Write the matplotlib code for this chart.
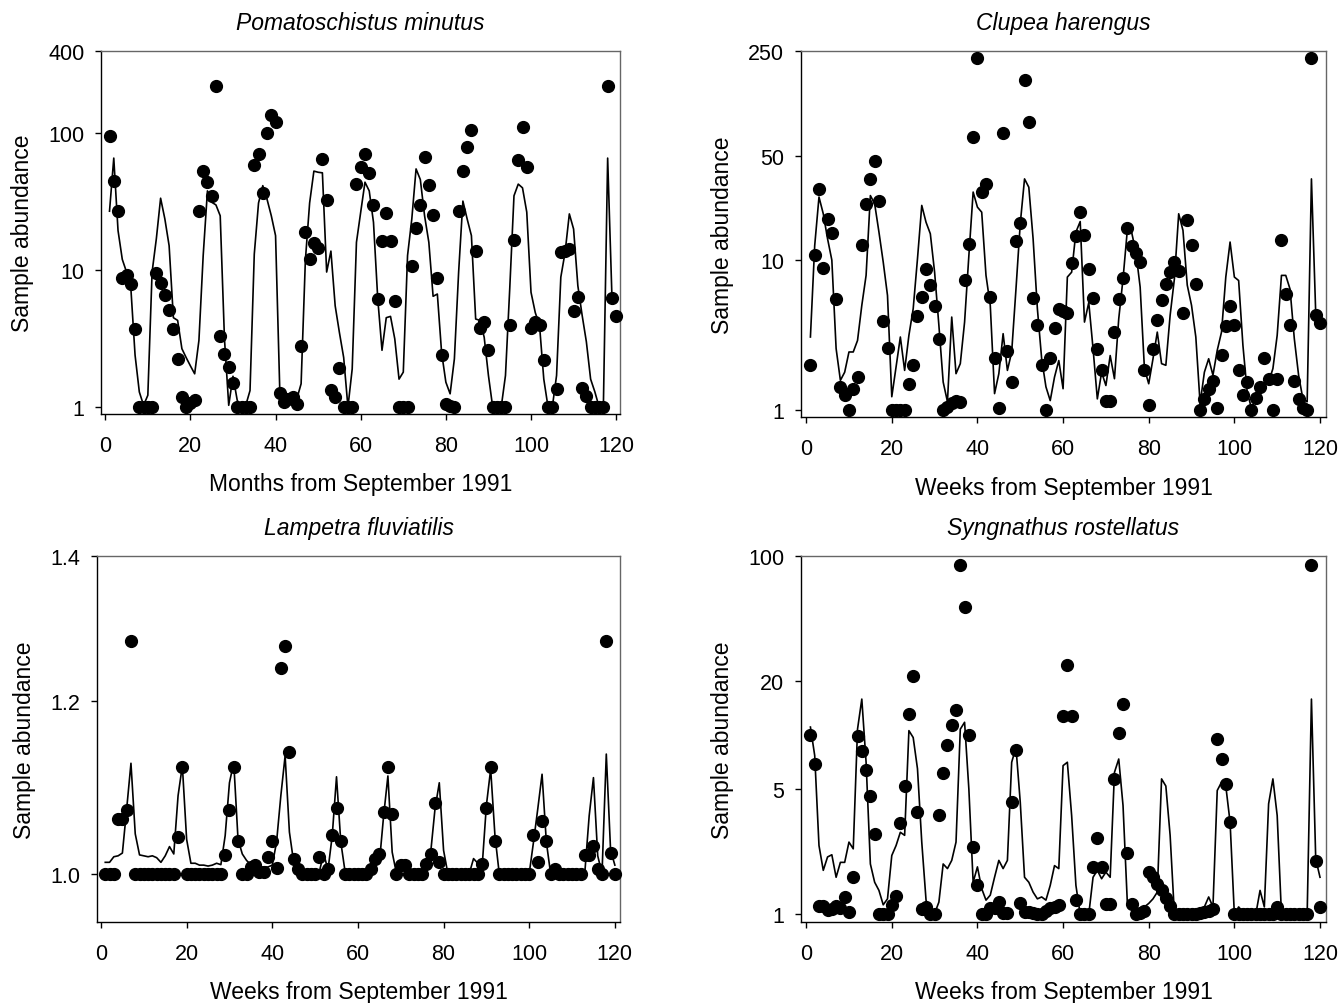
#
# Four panels of sample abundance: observed counts (dots) and fitted series (line)
#

import numpy as np
import matplotlib
matplotlib.use("Agg")
import matplotlib.pyplot as plt

plt.rcParams['font.family'] = ['Liberation Sans', 'DejaVu Sans']

# --- Pomatoschistus minutus (months 1..120)
pom_obs = [96, 45, 27, 8.8, 9.2, 7.9, 3.7, 1, 1, 1,
           1, 9.5, 8.0, 6.6, 5.1, 3.7, 2.25, 1.18, 1.0, 1.07,
           1.13, 27, 53, 44, 35, 221, 3.3, 2.44, 1.95, 1.49,
           1, 1, 1, 1, 59, 71, 36.6, 100, 137, 121,
           1.27, 1.09, 1.14, 1.18, 1.06, 2.79, 19.1, 12, 15.7, 14.6,
           64.6, 32.8, 1.33, 1.18, 1.93, 1, 1, 1, 43, 57,
           71, 51, 30, 6.2, 16.3, 26.4, 16.3, 6.0, 1, 1,
           1, 10.7, 20.3, 30, 67.6, 42, 25.5, 8.8, 2.41, 1.06,
           1.01, 1.0, 27.3, 53, 80, 106, 13.8, 3.8, 4.2, 2.6,
           1, 1, 1, 1, 4.0, 16.6, 63.6, 111, 57, 3.8,
           4.17, 3.95, 2.2, 1, 1, 1.36, 13.5, 13.9, 14.3, 5.0,
           6.4, 1.38, 1.2, 1, 1, 1, 1, 221, 6.25, 4.6]
pom_fit = [27, 66, 19.5, 12, 9.7, 7.5, 2.4, 1.29, 1.03, 1.22,
           9.7, 17, 33.6, 23.7, 15.1, 4.5, 4.3, 2.67, 2.3, 2.0,
           1.75, 3.07, 12.8, 38, 31.4, 30, 25, 3.15, 1.03, 1.68,
           1.12, 1.0, 1.03, 1.32, 13.1, 31, 41.5, 33, 25, 17.9,
           1.29, 1.23, 1.18, 1.15, 1.15, 1.48, 11.8, 31, 53, 52,
           51.5, 9.7, 13.8, 5.5, 3.5, 2.3, 1.0, 1.9, 16, 26.6,
           44, 38, 22.4, 6.2, 2.6, 4.5, 4.6, 3.15, 1.6, 1.8,
           12.8, 23.7, 55, 46, 25, 16, 6.45, 6.7, 2.5, 1.52,
           1.25, 2.25, 9.7, 32, 23.7, 17.9, 4.4, 4.3, 3.24, 1.7,
           1.0, 1.0, 1.0, 1.7, 7.3, 35, 42.6, 40, 26.6, 6.9,
           4.9, 3.95, 1.6, 1.0, 1.0, 1.7, 8.9, 13.5, 25.8, 20,
           7.7, 4.7, 3.0, 1.6, 1.29, 1.0, 1.03, 66, 6.5]

# --- Clupea harengus
clu_obs = [2.0, 10.8, 30, 8.9, 18.9, 15.1, 5.5, 1.42, 1.25, 1.0,
           1.38, 1.65, 12.7, 23.8, 34.9, 45.8, 25, 3.9, 2.6, 1.0,
           1.0, 1.0, 1.0, 1.49, 1.98, 4.25, 5.7, 8.75, 6.8, 4.9,
           2.95, 1.0, 1.04, 1.1, 1.15, 1.12, 7.4, 12.9, 66.7, 224,
           28.5, 32.3, 5.7, 2.2, 1.03, 70.6, 2.47, 1.53, 13.5, 17.8,
           161, 83.6, 5.6, 3.66, 2.0, 1.0, 2.2, 3.5, 4.73, 4.6,
           4.45, 9.5, 14.6, 21, 14.7, 8.7, 5.6, 2.53, 1.84, 1.15,
           1.15, 3.3, 5.5, 7.6, 16.4, 12.5, 11.2, 9.75, 1.84, 1.07,
           2.53, 3.95, 5.4, 6.9, 8.3, 9.75, 8.5, 4.4, 18.6, 12.7,
           6.9, 1.0, 1.18, 1.37, 1.55, 1.03, 2.33, 3.6, 4.9, 3.7,
           1.83, 1.25, 1.53, 1.0, 1.2, 1.42, 2.2, 1.61, 1.0, 1.61,
           13.7, 5.9, 3.7, 1.55, 1.18, 1.03, 1.0, 224, 4.3, 3.8]
clu_fit = [3.06, 12.5, 26.4, 20.4, 13.9, 10, 2.56, 1.57, 1.78, 2.43,
           2.43, 2.9, 4.98, 7.9, 27, 23.8, 15.4, 9.7, 5.8, 1.22,
           1.93, 3.06, 1.83, 3.14, 4.73, 10.2, 23.2, 17.9, 15, 8.3,
           3.66, 1.53, 1.13, 4.16, 1.74, 2.03, 3.85, 10.7, 28.5, 22.6,
           20.9, 7.9, 4.98, 1.28, 1.74, 3.22, 1.83, 2.43, 6.4, 17.5,
           34.9, 30.7, 13.9, 4.73, 2.19, 1.42, 1.15, 1.65, 2.13, 1.38,
           7.7, 8.3, 15.4, 18.1, 3.85, 5.2, 2.56, 1.18, 1.78, 1.45,
           2.3, 1.61, 4.05, 7.5, 15.8, 15.4, 11.3, 6.6, 1.88, 1.49,
           2.19, 3.3, 2.03, 1.98, 4.27, 7.5, 20.4, 15.8, 6.8, 4.98,
           3.06, 1.1, 1.78, 2.19, 1.7, 2.49, 3.3, 7.7, 13.2, 7.7,
           7.3, 2.69, 1.31, 1.02, 1.18, 1.38, 1.45, 1.53, 1.88, 3.14,
           7.9, 7.9, 6.4, 2.98, 1.7, 1.18, 1.13, 34.9, 4.4, 4.0]

# --- Lampetra fluviatilis
lam_obs = [1.0, 1.0, 1.0, 1.06, 1.06, 1.07, 1.28, 1.0, 1.0, 1.0,
           1.0, 1.0, 1.0, 1.0, 1.0, 1.0, 1.0, 1.04, 1.12, 1.0,
           1.0, 1.0, 1.0, 1.0, 1.0, 1.0, 1.0, 1.0, 1.02, 1.07,
           1.12, 1.035, 1.0, 1.0, 1.007, 1.009, 1.002, 1.002, 1.018, 1.035,
           1.006, 1.243, 1.273, 1.137, 1.016, 1.005, 1.0, 1.0, 1.0, 1.0,
           1.018, 1.0, 1.005, 1.042, 1.072, 1.035, 1.0, 1.0, 1.0, 1.0,
           1.0, 1.0, 1.005, 1.016, 1.021, 1.067, 1.12, 1.065, 1.0, 1.009,
           1.009, 1.0, 1.0, 1.0, 1.0, 1.01, 1.021, 1.078, 1.012, 1.0,
           1.0, 1.0, 1.0, 1.0, 1.0, 1.0, 1.0, 1.0, 1.01, 1.072,
           1.12, 1.035, 1.0, 1.0, 1.0, 1.0, 1.0, 1.0, 1.0, 1.0,
           1.042, 1.012, 1.057, 1.035, 1.0, 1.005, 1.0, 1.0, 1.0, 1.0,
           1.0, 1.0, 1.02, 1.02, 1.03, 1.005, 1.0, 1.28, 1.022, 1.0]
lam_fit = [1.012, 1.012, 1.018, 1.019, 1.022, 1.071, 1.124, 1.043, 1.02, 1.019,
           1.018, 1.019, 1.017, 1.012, 1.019, 1.029, 1.021, 1.086, 1.121, 1.037,
           1.011, 1.011, 1.009, 1.009, 1.008, 1.009, 1.011, 1.0095, 1.041, 1.101,
           1.125, 1.037, 1.021, 1.014, 1.0095, 1.007, 1.007, 1.007, 1.007, 1.009,
           1.034, 1.086, 1.133, 1.045, 1.012, 1.009, 1.005, 1.0035, 1.002, 1.002,
           1.002, 1.022, 1.0035, 1.041, 1.108, 1.034, 1.002, 1.0, 1.0, 1.0,
           1.0, 1.0, 1.005, 1.0095, 1.011, 1.063, 1.109, 1.023, 1.0, 1.005,
           1.005, 1.0, 1.0, 1.0, 1.0, 1.005, 1.023, 1.071, 1.101, 1.025,
           1.0, 1.0, 1.0, 1.0, 1.0, 1.0, 1.016, 1.011, 1.007, 1.075,
           1.117, 1.041, 1.0, 1.0, 1.0, 1.0, 1.0, 1.0, 1.0, 1.0,
           1.034, 1.071, 1.111, 1.034, 1.0, 1.005, 1.0, 1.0, 1.0, 1.0,
           1.0, 1.0, 1.002, 1.063, 1.107, 1.019, 1.0, 1.135, 1.025, 1.009]

# --- Syngnathus rostellatus
syn_obs = [10.07, 6.93, 1.11, 1.11, 1.06, 1.075, 1.11, 1.09, 1.25, 1.03,
           1.62, 9.9, 8.17, 6.4, 4.58, 2.79, 1.0, 1.0, 1.0, 1.13,
           1.27, 3.24, 5.23, 13.2, 21.3, 3.72, 1.075, 1.1, 1.0, 1.0,
           3.6, 6.18, 8.78, 11.4, 13.9, 88.7, 52, 10.07, 2.37, 1.46,
           1.0, 1.0, 1.09, 1.09, 1.17, 1.02, 1.02, 4.23, 8.27, 1.15,
           1.03, 1.03, 1.02, 1.0, 1.01, 1.05, 1.08, 1.1, 1.13, 12.8,
           24.7, 12.8, 1.2, 1.0, 1.0, 1.0, 1.84, 2.66, 1.84, 1.14,
           1.14, 5.7, 10.3, 14.9, 2.2, 1.14, 1.0, 1.02, 1.04, 1.72,
           1.61, 1.48, 1.36, 1.24, 1.11, 1.0, 1.0, 1.0, 1.0, 1.0,
           1.0, 1.02, 1.03, 1.05, 1.07, 9.5, 7.36, 5.35, 3.27, 1.0,
           1.0, 1.0, 1.0, 1.0, 1.0, 1.0, 1.0, 1.0, 1.0, 1.1,
           1.0, 1.0, 1.0, 1.0, 1.0, 1.0, 1.0, 88.7, 1.98, 1.1]
syn_fit = [11.1, 7.7, 2.42, 1.76, 2.09, 2.15, 1.61, 1.95, 1.95, 2.53,
           2.32, 10.8, 15.9, 7.06, 1.91, 1.51, 1.36, 1.13, 1.22, 2.13,
           2.42, 2.87, 2.76, 10.6, 9.7, 6.5, 2.53, 1.2, 1.0, 1.01,
           1.17, 1.91, 1.8, 2.0, 2.53, 10.8, 11.8, 5.0, 1.51, 1.84,
           1.39, 1.2, 1.28, 1.61, 2.0, 1.8, 2.0, 7.06, 8.55, 4.23,
           1.61, 1.51, 1.33, 1.22, 1.25, 1.2, 1.45, 1.87, 1.8, 6.76,
           7.06, 3.56, 1.45, 1.0, 1.0, 1.0, 1.61, 1.76, 1.58, 1.72,
           1.61, 6.2, 7.36, 4.05, 1.17, 1.1, 1.05, 1.05, 1.1, 1.15,
           1.22, 1.33, 5.7, 5.2, 2.76, 1.0, 1.0, 1.0, 1.0, 1.0,
           1.0, 1.02, 1.1, 1.25, 1.1, 4.91, 5.46, 5.2, 3.27, 1.0,
           1.1, 1.03, 1.0, 1.0, 1.0, 1.36, 1.1, 4.14, 5.7, 3.56,
           1.0, 1.0, 1.0, 1.0, 1.0, 1.0, 1.0, 15.9, 2.04, 1.61]

W, H = 1342, 1004

def rect(l, r, t, b):
    return [l / W, 1 - b / H, (r - l) / W, (b - t) / H]

panels = [
    dict(title="Pomatoschistus minutus", obs=pom_obs, fit=pom_fit,
         box=rect(101, 620, 52, 415), xlim=(-1.0, 120.9), ylim=(0.89, 400),
         yticks=[1, 10, 100, 400], ylabels=['1', '10', '100', '400'],
         xlabel="Months from September 1991"),
    dict(title="Clupea harengus", obs=clu_obs, fit=clu_fit,
         box=rect(801, 1326, 52, 418), xlim=(-1.2, 121.4), ylim=(0.893, 250),
         yticks=[1, 10, 50, 250], ylabels=['1', '10', '50', '250'],
         xlabel="Weeks from September 1991"),
    dict(title="Lampetra fluviatilis", obs=lam_obs, fit=lam_fit,
         box=rect(97, 620, 557, 923), xlim=(-0.93, 121.2), ylim=(0.95, 1.4),
         yticks=[1.0, 1.2, 1.4], ylabels=['1.0', '1.2', '1.4'],
         xlabel="Weeks from September 1991"),
    dict(title="Syngnathus rostellatus", obs=syn_obs, fit=syn_fit,
         box=rect(801, 1326, 557, 923), xlim=(-1.2, 121.4), ylim=(0.906, 100),
         yticks=[1, 5, 20, 100], ylabels=['1', '5', '20', '100'],
         xlabel="Weeks from September 1991"),
]

fig = plt.figure(figsize=(W / 100, H / 100), dpi=100)

for p in panels:
    ax = fig.add_axes(p['box'])
    x_obs = np.arange(1, len(p['obs']) + 1)
    x_fit = np.arange(1, len(p['fit']) + 1)
    ax.plot(x_fit, p['fit'], color='black', lw=1.2, zorder=2)
    ax.plot(x_obs, p['obs'], 'o', color='black', ms=8.5, zorder=3, clip_on=False)
    ax.set_yscale('log')
    ax.set_xlim(*p['xlim'])
    ax.set_ylim(*p['ylim'])
    ax.set_yticks(p['yticks'])
    ax.set_yticklabels(p['ylabels'])
    ax.minorticks_off()
    ax.set_xticks(range(0, 121, 20))
    ax.tick_params(direction='out', length=4, width=1, labelsize=15.5)
    ax.tick_params(axis='y', pad=8)
    ax.tick_params(axis='x', pad=11)
    for side in ['left', 'bottom']:
        ax.spines[side].set_color('black')
        ax.spines[side].set_linewidth(1)
    for side in ['top', 'right']:
        ax.spines[side].set_color('#666666')
        ax.spines[side].set_linewidth(1)
    ax.set_title(p['title'], fontstyle='italic', fontsize=16.5, pad=16)
    ax.set_xlabel(p['xlabel'], fontsize=16.5, labelpad=12)
    ax.set_ylabel("Sample abundance", fontsize=16.5, labelpad=10)

fig.savefig("out.png", dpi=100)
